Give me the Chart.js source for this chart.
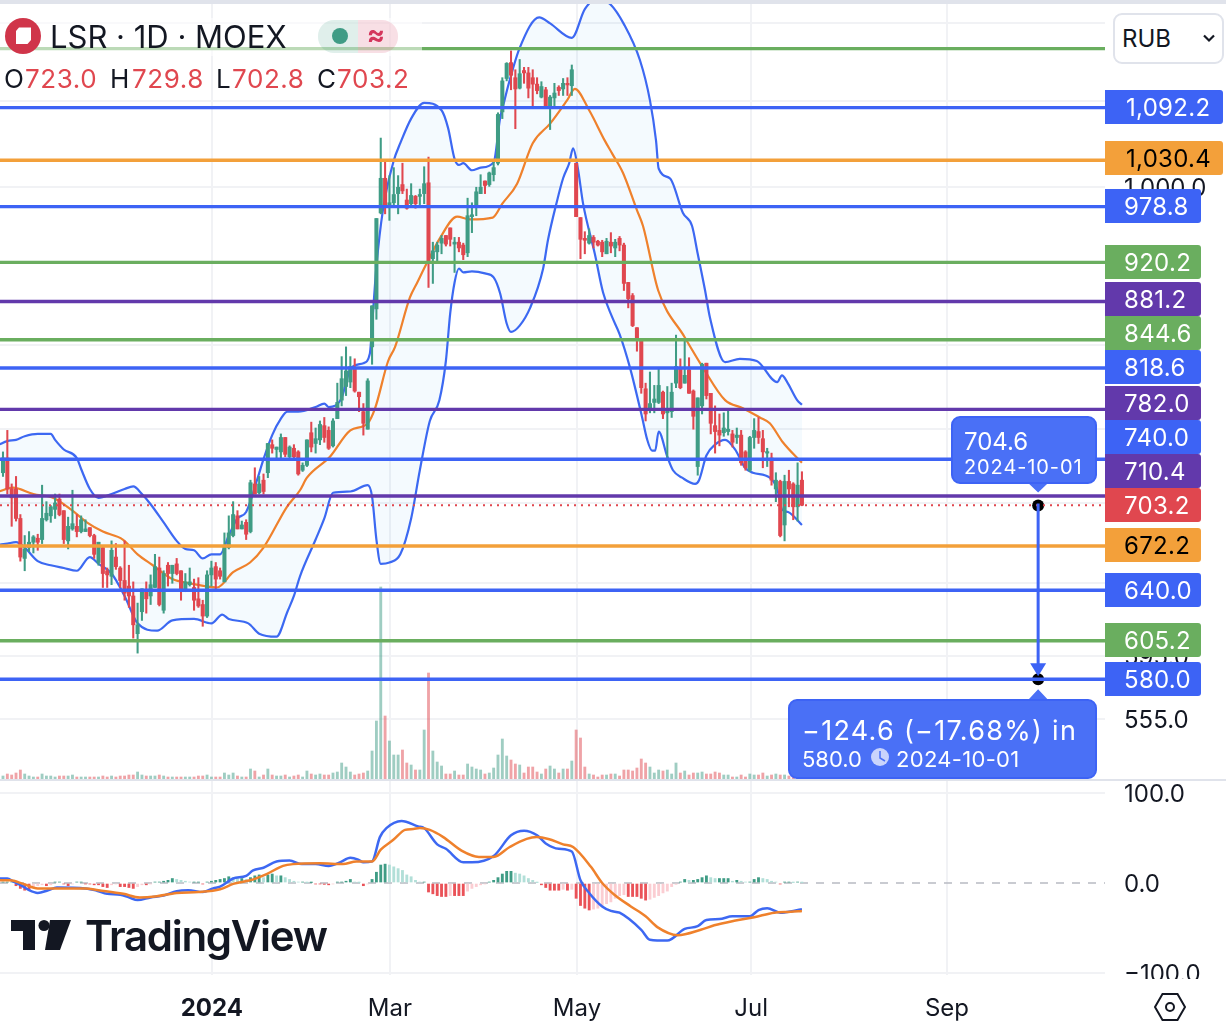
<!DOCTYPE html>
<html>
<head>
<meta charset="utf-8">
<title>LSR 1D MOEX</title>
<script src="https://cdn.jsdelivr.net/npm/chart.js@4"></script>
<style>
  html, body { margin: 0; padding: 0; background: #fff; }
  body { width: 1226px; height: 1031px; position: relative; overflow: hidden; font-family: Inter, "Noto Sans", sans-serif; color: #131722; }
  canvas { position: absolute; left: 0; top: 0; }
  .abs { position: absolute; white-space: nowrap; }
  .red { color: #e0474f; }
  #legendBack { left: 0; top: 18px; width: 422px; height: 38px; background: rgba(255,255,255,0.55); }
  #logo { left: 5px; top: 18px; width: 36px; height: 36px; }
  #title { left: 50px; top: 18px; font-size: 31px; line-height: 38px; }
  #pill { left: 318px; top: 20px; width: 80px; height: 33px; border-radius: 16px; overflow: hidden; }
  #pillL { position: absolute; left: 0; top: 0; width: 40px; height: 33px; background: rgba(63,156,133,0.16); }
  #pillR { position: absolute; left: 40px; top: 0; width: 40px; height: 33px; background: rgba(212,54,92,0.16); color: #d4365c; font-size: 27px; line-height: 30px; font-weight: 700; text-align: center; text-indent: -4px; }
  #pillDot { position: absolute; left: 14px; top: 8px; width: 16px; height: 16px; border-radius: 50%; background: #3f9c85; }
  .ohlc { top: 63px; font-size: 26px; line-height: 32px; letter-spacing: 0.6px; }
  #rub { left: 1113px; top: 13px; width: 107px; height: 47px; border: 2px solid #e0e3eb; border-radius: 9px; background: #fff; font-size: 24px; line-height: 47px; text-indent: 7px; }
  #chev { left: 1202px; top: 33px; width: 14px; height: 10px; }
  #tvIcon { left: 11px; top: 920px; width: 60px; height: 31px; }
  #tvText { left: 85px; top: 908px; font-size: 42px; line-height: 56px; font-weight: 600; letter-spacing: -1.3px; }
</style>
</head>
<body>
<canvas id="chart" width="1226" height="1031"></canvas>

<div class="abs" id="legendBack"></div>
<svg class="abs" id="logo" viewBox="0 0 36 36">
  <circle cx="18" cy="18" r="18" fill="#d0354a"/>
  <path d="M11 13 L14 9.5 L26 9.5 L26 22 L22.5 26 L11 26 Z" fill="#fff"/>
</svg>
<div class="abs" id="title">LSR · 1D · MOEX</div>
<div class="abs" id="pill"><div id="pillL"><div id="pillDot"></div></div><div id="pillR">≈</div></div>
<div class="abs ohlc" style="left:4px">O</div><div class="abs ohlc red" style="left:25px">723.0</div>
<div class="abs ohlc" style="left:110px">H</div><div class="abs ohlc red" style="left:132px">729.8</div>
<div class="abs ohlc" style="left:216px">L</div><div class="abs ohlc red" style="left:232px">702.8</div>
<div class="abs ohlc" style="left:317px">C</div><div class="abs ohlc red" style="left:337px">703.2</div>
<div class="abs" id="rub">RUB</div>
<svg class="abs" id="chev" viewBox="0 0 14 10"><path d="M2 2.5 L7 7.5 L12 2.5" fill="none" stroke="#131722" stroke-width="2.2"/></svg>
<svg class="abs" id="tvIcon" viewBox="0 0 60 31">
  <path d="M0 0 H24 V30 H12 V11 H0 Z" fill="#131722"/>
  <circle cx="33" cy="5.5" r="5.5" fill="#131722"/>
  <path d="M39 0 H60 L49 30 H34 Z" fill="#131722"/>
</svg>
<div class="abs" id="tvText">TradingView</div>

<script>
// candles
const opens = [729,741,716,716,693,663,671,675,678,677,
  692,695,700,708,699,676,685,687,683,683,
  686,680,660,671,654,650,664,656,647,643,
  636,610,625,640,636,642,656,626,658,652,
  659,654,640,644,642,634,630,622,651,657,
  654,646,671,680,695,685,690,683,720,713,
  723,729,752,748,746,758,742,749,746,731,
  735,762,753,756,768,764,751,774,790,802,
  806,818,797,780,765,838,874,972,1010,978,
  983,993,1003,986,982,990,990,993,1005,924,
  931,940,948,956,939,941,938,930,968,978,
  993,1007,1003,1014,1027,1087,1128,1148,1129,1116,
  1138,1135,1129,1121,1105,1114,1091,1104,1117,1115,
  1122,1119,1027,967,945,940,946,942,941,929,
  941,935,945,938,900,887,856,845,800,781,
  788,788,797,779,780,805,819,805,817,798,
  734,785,823,796,768,764,762,763,761,758,
  760,746,731,758,763,757,745,741,716,722,
  688,722,720,702,723];
const highs = [746,764,720,726,696,680,683,680,681,719,
  706,703,712,712,699,694,715,696,695,692,
  686,681,675,672,656,676,674,657,676,658,
  646,631,641,646,651,666,664,654,660,658,
  663,654,652,656,648,649,633,654,661,660,
  656,682,695,706,699,691,692,723,733,726,
  728,753,756,750,761,758,751,752,747,737,
  756,771,766,772,775,767,774,805,829,838,
  829,827,797,787,809,877,966,1056,1028,1013,
  1022,1013,1027,998,1004,991,998,1023,1034,941,
  941,948,948,956,946,946,940,988,983,1000,
  1014,1007,1017,1028,1086,1129,1148,1163,1139,1152,
  1142,1142,1139,1129,1124,1117,1107,1122,1119,1128,
  1129,1145,1027,967,952,955,948,943,943,945,
  951,944,947,940,900,889,856,845,805,815,
  803,819,798,802,805,849,827,846,828,799,
  792,823,823,796,785,778,779,782,764,766,
  764,747,759,774,775,764,749,745,729,723,
  727,731,721,737,729.8];
const lows = [726,712,687,691,661,654,668,667,669,674,
  691,690,693,695,674,670,684,679,682,683,
  679,663,658,642,642,644,655,642,633,628,
  607,597,619,624,630,642,629,624,643,645,
  651,633,639,643,626,628,615,621,643,641,
  648,646,670,679,685,685,677,682,712,712,
  712,725,745,740,739,742,741,741,727,730,
  734,746,745,752,754,748,750,774,785,794,
  801,797,780,760,765,822,864,971,971,964,
  978,971,993,976,978,977,981,982,895,899,
  921,929,937,937,910,931,923,926,951,969,
  993,993,1001,1007,1025,1079,1125,1114,1067,1115,
  1122,1104,1091,1109,1104,1091,1066,1092,1107,1107,
  1107,1107,968,924,929,939,935,937,926,929,
  930,926,932,892,875,857,834,796,772,779,
  779,787,774,739,775,801,800,805,796,765,
  727,778,791,761,745,751,759,760,750,753,
  735,731,730,749,753,733,734,719,706,679,
  676,702,692,691,702.8];
const closes = [741,716,709,693,664,670,675,679,675,693,
  697,702,705,696,677,687,689,683,692,685,
  680,666,675,652,651,669,657,647,638,636,
  616,616,641,634,644,657,630,652,652,658,
  652,640,646,646,633,629,622,651,656,648,
  650,672,682,696,685,688,681,721,712,720,
  714,753,749,750,758,744,750,742,728,735,
  756,750,757,769,758,749,772,788,809,816,
  820,798,793,770,807,877,966,1010,978,983,
  992,1000,996,977,991,982,992,1004,922,932,
  938,945,939,944,941,935,928,969,970,995,
  1000,1002,1016,1022,1084,1125,1147,1132,1115,1134,
  1135,1116,1121,1113,1118,1091,1105,1110,1113,1122,
  1120,1139,968,944,943,948,941,938,931,942,
  937,941,938,899,884,858,844,801,778,787,
  791,803,778,782,797,820,801,812,796,776,
  792,822,794,770,763,760,766,765,754,760,
  737,733,758,764,758,746,746,723,723,680,
  722,716,702,719,703.2];
const volumes = [3,5,4,6,9,5,3,2,2,5,
  3,3,2,3,3,3,4,2,2,2,
  2,2,2,3,2,3,2,3,3,4,
  4,7,4,3,3,3,4,3,2,2,
  2,2,2,2,2,3,3,4,2,2,
  2,6,4,6,3,2,2,10,8,2,
  4,10,4,3,3,4,2,3,4,2,
  8,5,4,5,4,4,6,7,16,12,
  7,4,5,6,8,28,58,192,63,38,
  24,24,29,16,14,9,9,49,106,28,
  17,13,5,5,8,4,4,15,12,10,
  9,5,6,11,24,40,23,19,15,14,
  6,12,12,7,5,10,13,10,6,10,
  10,18,49,41,12,5,4,2,4,4,
  5,5,3,9,9,8,11,20,16,12,
  6,9,8,9,5,16,6,8,4,6,
  6,7,5,5,7,6,4,4,2,2,
  4,2,5,4,4,6,3,4,5,4,
  4,3,3,3,2];

// bollinger bands as [bar, price]
const bandUpper = [[-1,752],[1,755],[3,756],[5,759],[8,761],[11,761],[12,756],[14,748],[17,741],[18,732],[20,716],[22,709],[25,712],[28,716],[30,718],[32,712],[34,704],[37,690],[40,676],[42,670],[44,669],[46,663],[48,666],[50,666],[52,680],[54,693],[56,698],[58.5,723],[60,740],[62,760],[64,774],[65.5,780],[68,780],[72,784],[74,787],[75,784],[78,792],[79,805],[80,818],[83,823],[84.5,832],[85,858],[86,916],[87.5,975],[90,1030],[91.5,1050],[94,1079],[97,1098],[101,1089],[102.5,1068],[104,1032],[105,1025],[106,1027],[108,1019],[110,1022],[113,1028],[114.5,1080],[115.5,1101],[116.5,1122],[119,1167],[123.5,1207],[126,1199],[131,1180],[134,1218],[136.8,1232],[139.8,1225],[143,1198],[146.7,1151],[149,1101],[150.4,1053],[151,1021],[153.6,1010],[156.6,972],[158.7,958],[160,929],[161.7,892],[162.8,866],[166.3,824],[169.7,827],[173.6,825],[178.3,806],[179.4,812],[180.6,806],[182.9,790],[184,786]];
const bandLower = [[-1,673],[1,674],[3,675],[5,671],[8,661],[11,658],[14,656],[17,654],[20,664],[22,659],[25,652],[28,636],[31,617],[35.5,612],[39,619],[44,620],[48,617],[50.5,623],[52,620],[56.5,617],[59,610],[63,608],[65.5,625],[67,636],[68.4,650],[72,677],[74,693],[76,713],[80,714],[84,719],[85,710],[86,677],[87,659],[89,660],[91.5,666],[94,693],[96,731],[98.3,772],[100.5,790],[102,825],[103,870],[104,900],[105,914],[106,910],[108,911],[111,909],[113,905],[114.5,889],[116,860],[117,852],[119,858],[121.4,875],[124.4,914],[125.5,943],[127.6,985],[129,1010],[130.4,1027],[131.3,1044],[132.4,1021],[133.6,982],[136.3,929],[138.2,890],[140.3,866],[142,850],[144.4,819],[147.2,775],[148.3,757],[149.5,747],[150.2,747],[151,763],[153,742],[154.3,731],[156.4,725],[159.4,720],[160.3,723],[162,743],[164,752],[166.3,756],[168.6,748],[170.9,733],[172.7,729],[176.6,725],[178.3,716],[179.4,700],[180.8,698],[184,688]];
const bandBasis = [[-1,714],[2.3,717],[7,712],[11.5,709],[16,699],[19.3,690],[23,683],[27.6,677],[31,666],[34.5,658],[39,648],[43,645],[49.3,642],[53,653],[56.9,660],[60,671],[65.4,702],[68.4,715],[70,725],[75.3,742],[80,764],[84,770],[85.7,783],[88.7,825],[90.3,838],[93.7,885],[95.3,899],[97.9,922],[100.6,945],[104.6,968],[107.5,965],[112.8,967],[115,982],[118.4,1004],[122,1050],[126,1073],[129.9,1101],[131.7,1115],[135,1089],[138.6,1053],[140.3,1038],[142.8,1016],[146,975],[147.4,958],[150.9,892],[157,847],[161.2,819],[166.3,790],[170.4,783],[174.3,775],[176.6,770],[179.6,754],[184,737]];

// macd lines as [bar, value]
const macdLine = [[-1,5],[1,5],[2.4,1.5],[4,-2],[6,-8],[8,-11],[10.4,-8],[12.4,-5],[19,-6],[21.6,-8.5],[24,-12],[27,-13],[29,-16],[31,-19],[34,-16],[37,-14],[40,-9],[42.7,-8],[46,-10],[48.4,-6],[50,-4],[53,5],[56,8],[57.6,14],[60,17],[63,24],[66,25],[68.8,21],[72,21],[75,19],[77.6,23],[80,28],[81.8,26],[83,23],[85,24],[86.8,51],[88.3,61],[91.8,69],[95.6,63],[97,61],[100,43],[102,38],[106,23],[108,23],[113,30],[117,53],[120,58],[123,53],[125,44],[128,38],[131,35],[133,3],[135,-11],[138,-26],[140,-31],[142,-33],[147,-52],[149,-63],[153,-64],[157,-51],[160,-48],[162,-41],[165,-40],[168,-37],[172,-37],[174,-30],[176,-28],[179,-33],[182,-31],[184,-29]];
const macdSignal = [[-1,3],[1.6,3],[4.7,-1],[8,-6],[12.4,-6],[19,-6],[22,-8],[27.7,-12],[31.5,-16],[35,-15],[40,-11],[45,-10],[50,-7],[53,-1],[56.9,3],[60.7,10],[64.5,19],[66.8,21],[73,22],[78.3,21],[81.4,24],[85,24],[87,37],[89.9,48],[92.6,59],[94.5,60],[96,61],[98.3,59],[101.4,51],[105.6,36],[109.6,29],[113,29],[116.7,40],[120.6,49],[122.9,51],[125.6,49],[129,43],[131.3,40],[135.4,18],[138,0],[140.8,-13],[144.6,-26],[148,-37],[150.7,-49],[155.4,-58],[160.7,-52],[163.8,-47],[168.4,-42],[173,-38],[177.6,-33],[181.4,-32],[184,-31]];
const macdHist = [1,1,0.5,-3,-6,-8,-8,-5,-3,-2,
  -3,-2,1,1,-1,-3,-1,1,1,-1,
  -1,-2,-2,-4,-5,-2,-1,-4,-4,-5,
  -6,-4,-2,-2,-1,1,1,2,3,5,
  4,3,2,1,1,1,-1,1,2,3,
  4,5,7,6,5,5,4,6,8,9,
  6,9,10,8,8,6,4,2,1,1,
  0.5,0.5,-1,-1,-1.5,-2,-1,1,1,2,
  4,1,0.5,-3,-1,4,12,20,21,20,
  18,16,14,9,7,3,1,1,-10,-12,
  -14,-15,-15,-14,-14,-14,-14,-9,-6,-4,
  -2,-1,1,3,6,10,13,13,11,10,
  8,5,3,0.5,-2,-5,-8,-8,-8,-7,
  -8,-7,-17,-25,-28,-30,-29,-28,-25,-23,
  -21,-17,-14,-13,-15,-15,-15,-17,-19,-18,
  -16,-14,-11,-9,-4,-1.5,1,4,3,3,
  4,6,8,6,5,5,5,5,2,3,
  2,1,1,4,6,5,4,2,1,-1,
  1,1,0.5,1,0.5];

// horizontal levels drawn on the chart
const levelValues = [1166,1092.2,1030.4,978.8,920.2,881.2,844.6,818.6,782.0,740.0,710.4,672.2,640.0,605.2,580.0];
const levelKinds = ['green','blue','orange','blue','green','purple','green','blue','purple','blue','purple','orange','blue','green','blue'];
const lastPrice = 703.2;

// price projection (target date as bar number)
const projBar = 238.4;
const projFrom = 704.6;
const projTo = 580.0;

// axis ticks
const priceTicks = [1200,1100,1000,920,840,765,705,645,595,555];
const macdTicks = [100,0,-100];
const dateTicks = [48.1,89.1,132.2,172.3,217.4];
const dateLabels = ['2024','Mar','May','Jul','Sep'];

const palette = { green: '#6aae5f', blue: '#3d63f5', orange: '#f3a03a', purple: '#6239ab' };
const upColor = '#3f9c85', downColor = '#e0474f';
const fontName = 'Inter, "Noto Sans", sans-serif';
const xMin = -0.69, xMax = 253.8;

// right side tags: centre y of each tag, they get pushed apart like on the original
const tagY = [null,107,158,206,262,299,333,367,403,437,471,545,590,640,679];
const tagLastY = 505;

const pts = pairs => pairs.map(p => ({ x: p[0], y: p[1] }));
const isUp = i => closes[i] >= opens[i];

function fmt(v) {
  return v.toLocaleString('en-US', { minimumFractionDigits: 1, maximumFractionDigits: 1 });
}

function histColor(i) {
  const v = macdHist[i], prev = i > 0 ? macdHist[i - 1] : 0;
  if (v >= 0) return v >= prev ? '#3f9c85' : '#b2dfd8';
  return v <= prev ? '#ea5258' : '#fbcdd2';
}

function hLine(y, color, width, dash, order) {
  return {
    type: 'line', xAxisID: 'x', yAxisID: 'yPrice', order: order,
    data: [{ x: xMin, y: y }, { x: xMax, y: y }],
    borderColor: color, borderWidth: width, borderDash: dash || [], pointRadius: 0
  };
}

const datasets = [];

// levels on top of everything else in the price pane
levelValues.forEach((v, i) => datasets.push(hLine(v, palette[levelKinds[i]], 3.4, null, 1)));
datasets.push(hLine(lastPrice, downColor, 2, [2, 5], 1));

// projection arrow + end dots
datasets.push({
  type: 'line', xAxisID: 'x', yAxisID: 'yPrice', order: 0,
  data: [{ x: projBar, y: projFrom }, { x: projBar, y: projTo + 4 }],
  borderColor: palette.blue, borderWidth: 3, pointRadius: 0
});
datasets.push({
  type: 'line', xAxisID: 'x', yAxisID: 'yPrice', order: 2, showLine: false,
  data: [{ x: projBar, y: projFrom - 1.5 }, { x: projBar, y: projTo }],
  pointRadius: 6, pointBackgroundColor: '#000', pointBorderWidth: 0
});

// candles: wick then body, both floating bars
datasets.push({
  type: 'bar', xAxisID: 'x', yAxisID: 'yPrice', order: 3, grouped: false, barThickness: 3.4,
  data: opens.map((o, i) => ({ x: i, y: [o, closes[i]] })),
  backgroundColor: opens.map((o, i) => isUp(i) ? upColor : downColor), minBarLength: 1.5
});
datasets.push({
  type: 'bar', xAxisID: 'x', yAxisID: 'yPrice', order: 4, grouped: false, barThickness: 1.4,
  data: lows.map((l, i) => ({ x: i, y: [l, highs[i]] })),
  backgroundColor: opens.map((o, i) => isUp(i) ? upColor : downColor)
});

// bollinger
datasets.push({
  type: 'line', xAxisID: 'x', yAxisID: 'yPrice', order: 5, data: pts(bandBasis),
  borderColor: '#ef812c', borderWidth: 2.2, pointRadius: 0, cubicInterpolationMode: 'monotone'
});
datasets.push({
  type: 'line', xAxisID: 'x', yAxisID: 'yPrice', order: 6, data: pts(bandUpper),
  borderColor: '#3d68f2', borderWidth: 2.2, pointRadius: 0, cubicInterpolationMode: 'monotone',
  fill: '+1', backgroundColor: 'rgba(33,150,243,0.05)'
});
datasets.push({
  type: 'line', xAxisID: 'x', yAxisID: 'yPrice', order: 6, data: pts(bandLower),
  borderColor: '#3d68f2', borderWidth: 2.2, pointRadius: 0, cubicInterpolationMode: 'monotone'
});

// volume
datasets.push({
  type: 'bar', xAxisID: 'x', yAxisID: 'yVol', order: 8, grouped: false, barThickness: 2.2,
  data: volumes.map((v, i) => ({ x: i, y: v })),
  backgroundColor: volumes.map((v, i) => isUp(i) ? 'rgba(63,156,133,0.5)' : 'rgba(224,71,79,0.5)')
});

// macd pane
datasets.push({
  type: 'line', xAxisID: 'x', yAxisID: 'yMacd', order: 1, data: pts(macdSignal),
  borderColor: '#ef812c', borderWidth: 2.5, pointRadius: 0, cubicInterpolationMode: 'monotone'
});
datasets.push({
  type: 'line', xAxisID: 'x', yAxisID: 'yMacd', order: 2, data: pts(macdLine),
  borderColor: '#3d68f2', borderWidth: 2.5, pointRadius: 0, cubicInterpolationMode: 'monotone'
});
datasets.push({
  type: 'bar', xAxisID: 'x', yAxisID: 'yMacd', order: 3, grouped: false, barThickness: 2.2,
  data: macdHist.map((v, i) => ({ x: i, y: v })),
  backgroundColor: macdHist.map((v, i) => histColor(i))
});
datasets.push({
  type: 'line', xAxisID: 'x', yAxisID: 'yMacd', order: 4,
  data: [{ x: xMin, y: 0 }, { x: xMax, y: 0 }],
  borderColor: '#b8bac2', borderWidth: 1.5, borderDash: [8, 8], pointRadius: 0
});

function drawBubble(ctx, x, y, w, h, tipX, tipY) {
  const up = tipY < y;
  ctx.beginPath();
  ctx.roundRect(x, y, w, h, 8);
  ctx.moveTo(tipX - 11, up ? y + 1 : y + h - 1);
  ctx.lineTo(tipX, tipY);
  ctx.lineTo(tipX + 11, up ? y + 1 : y + h - 1);
  ctx.closePath();
  ctx.fillStyle = '#4a70f6';
  ctx.fill();
  ctx.beginPath();
  ctx.roundRect(x, y, w, h, 8);
  ctx.strokeStyle = '#3d63f5';
  ctx.lineWidth = 2;
  ctx.stroke();
}

function label(ctx, text, x, y, font, color, spacing) {
  ctx.font = font;
  ctx.fillStyle = color;
  ctx.letterSpacing = spacing || '0px';
  ctx.textAlign = 'left';
  ctx.textBaseline = 'middle';
  ctx.fillText(text, x, y);
  ctx.letterSpacing = '0px';
}

const overlayPlugin = {
  id: 'overlay',
  afterLayout(chart) {
    // macd axis has zero width in the layout, its labels get clipped unless it spans the gutter
    chart.scales.yMacd.right = 1226;
    chart.scales.yMacd.width = 121;
  },
  afterDatasetsDraw(chart) {
    const ctx = chart.ctx;
    const x = chart.scales.x.getPixelForValue(projBar);
    const yTo = chart.scales.yPrice.getPixelForValue(projTo);
    const yFrom = chart.scales.yPrice.getPixelForValue(projFrom);

    // arrow head
    ctx.save();
    ctx.fillStyle = palette.blue;
    ctx.beginPath();
    ctx.moveTo(x - 8, yTo - 16);
    ctx.lineTo(x + 8, yTo - 16);
    ctx.lineTo(x, yTo - 3);
    ctx.closePath();
    ctx.fill();

    drawBubble(ctx, 952, 417, 144, 66, x, yFrom - 11);
    label(ctx, fmt(projFrom), 964, 443, '24px ' + fontName, '#fff');
    label(ctx, '2024-10-01', 964, 468, '20px ' + fontName, '#fff', '0.9px');

    drawBubble(ctx, 789, 700, 307, 78, x, yTo + 10);
    label(ctx, '\u2212124.6 (\u221217.68%) in', 802, 732, '27px ' + fontName, '#fff', '1.3px');
    label(ctx, fmt(projTo), 802, 760, '22px ' + fontName, '#fff');
    label(ctx, '2024-10-01', 896, 760, '22px ' + fontName, '#fff', '0.3px');

    // small clock
    ctx.fillStyle = 'rgba(255,255,255,0.7)';
    ctx.beginPath();
    ctx.arc(880, 757, 9, 0, Math.PI * 2);
    ctx.fill();
    ctx.strokeStyle = '#4a70f6';
    ctx.lineWidth = 1.5;
    ctx.beginPath();
    ctx.moveTo(880, 751);
    ctx.lineTo(880, 758);
    ctx.lineTo(885, 761);
    ctx.stroke();
    ctx.restore();
  },
  afterDraw(chart) {
    const ctx = chart.ctx;
    ctx.save();

    // top strip + pane separator
    ctx.fillStyle = '#e0e3eb';
    ctx.fillRect(0, 0, 1226, 4);
    ctx.fillRect(0, 779, 1226, 2);

    // last macd tick is cut off at the bottom of the pane
    ctx.fillStyle = '#fff';
    ctx.fillRect(1105, 979, 121, 14);

    // price tags
    levelValues.forEach((v, i) => {
      if (tagY[i] === null) return;
      const kind = levelKinds[i];
      const w = v >= 1000 ? 118 : 96;
      ctx.fillStyle = palette[kind];
      ctx.beginPath();
      ctx.roundRect(1105, tagY[i] - 17, w, 34, [0, 3, 3, 0]);
      ctx.fill();
      label(ctx, fmt(v), 1124 + (v >= 1000 ? 2 : 0), tagY[i] + 1.5, '24px ' + fontName, kind === 'orange' ? '#000' : '#fff', '0.3px');
    });
    ctx.fillStyle = downColor;
    ctx.beginPath();
    ctx.roundRect(1105, tagLastY - 17, 96, 34, [0, 3, 3, 0]);
    ctx.fill();
    label(ctx, fmt(lastPrice), 1124, tagLastY + 1.5, '24px ' + fontName, '#fff', '0.3px');

    // settings hexagon bottom right
    ctx.strokeStyle = '#131722';
    ctx.lineWidth = 2;
    ctx.beginPath();
    for (let k = 0; k < 6; k++) {
      const a = k * Math.PI / 3;
      const hx = 1170 + 15 * Math.cos(a), hy = 1007 + 15 * Math.sin(a);
      if (k === 0) ctx.moveTo(hx, hy); else ctx.lineTo(hx, hy);
    }
    ctx.closePath();
    ctx.stroke();
    ctx.beginPath();
    ctx.arc(1170, 1007, 4, 0, Math.PI * 2);
    ctx.stroke();
    ctx.restore();
  }
};

function noPadding(scale) {
  scale.paddingTop = 0;
  scale.paddingBottom = 0;
  scale.paddingLeft = 0;
  scale.paddingRight = 0;
}

new Chart(document.getElementById('chart'), {
  type: 'bar',
  data: { datasets: datasets },
  plugins: [overlayPlugin],
  options: {
    responsive: false,
    animation: false,
    layout: { autoPadding: false, padding: { top: 4, left: 0, right: 0, bottom: 0 } },
    plugins: { legend: { display: false }, tooltip: { enabled: false } },
    scales: {
      x: {
        type: 'linear', min: xMin, max: xMax, offset: false,
        grid: { color: '#f1f2f5', lineWidth: 2, drawTicks: false, offset: false },
        border: { display: false },
        afterBuildTicks: s => { s.ticks = dateTicks.map(v => ({ value: v })); },
        afterFit: s => { s.height = 56; noPadding(s); },
        ticks: {
          autoSkip: false, maxRotation: 0, padding: 19, color: '#131722',
          font: c => ({ family: fontName, size: 24, weight: c.index === 0 ? '700' : '400' }),
          callback: (v, i) => dateLabels[i]
        }
      },
      yPrice: {
        type: 'logarithmic', position: 'right', weight: 1, min: 418, max: 1225,
        grid: { color: '#f1f2f5', lineWidth: 2, drawTicks: false },
        border: { display: false },
        afterBuildTicks: s => { s.ticks = priceTicks.map(v => ({ value: v })); },
        afterFit: s => { s.width = 121; noPadding(s); },
        ticks: {
          autoSkip: false, padding: 19, color: '#131722', crossAlign: 'near', labelOffset: 2,
          font: { family: fontName, size: 24 },
          // top tick sits behind the currency box in the reference
          callback: v => v === 1200 ? '' : fmt(v)
        }
      },
      yMacd: {
        type: 'linear', position: 'right', weight: 0, min: -102.2, max: 976.7,
        grid: { color: c => c.tick && c.tick.value === 0 ? 'rgba(0,0,0,0)' : '#f1f2f5', lineWidth: 2, drawTicks: false },
        border: { display: false },
        afterBuildTicks: s => { s.ticks = macdTicks.map(v => ({ value: v })); },
        afterFit: s => { s.width = 0; noPadding(s); },
        ticks: {
          autoSkip: false, padding: 19, color: '#131722', crossAlign: 'near', labelOffset: 2,
          font: { family: fontName, size: 24 },
          callback: v => fmt(v).replace('-', '\u2212')
        }
      },
      yVol: { type: 'linear', display: false, min: -196, max: 775 }
    }
  }
});
</script>
</body>
</html>
